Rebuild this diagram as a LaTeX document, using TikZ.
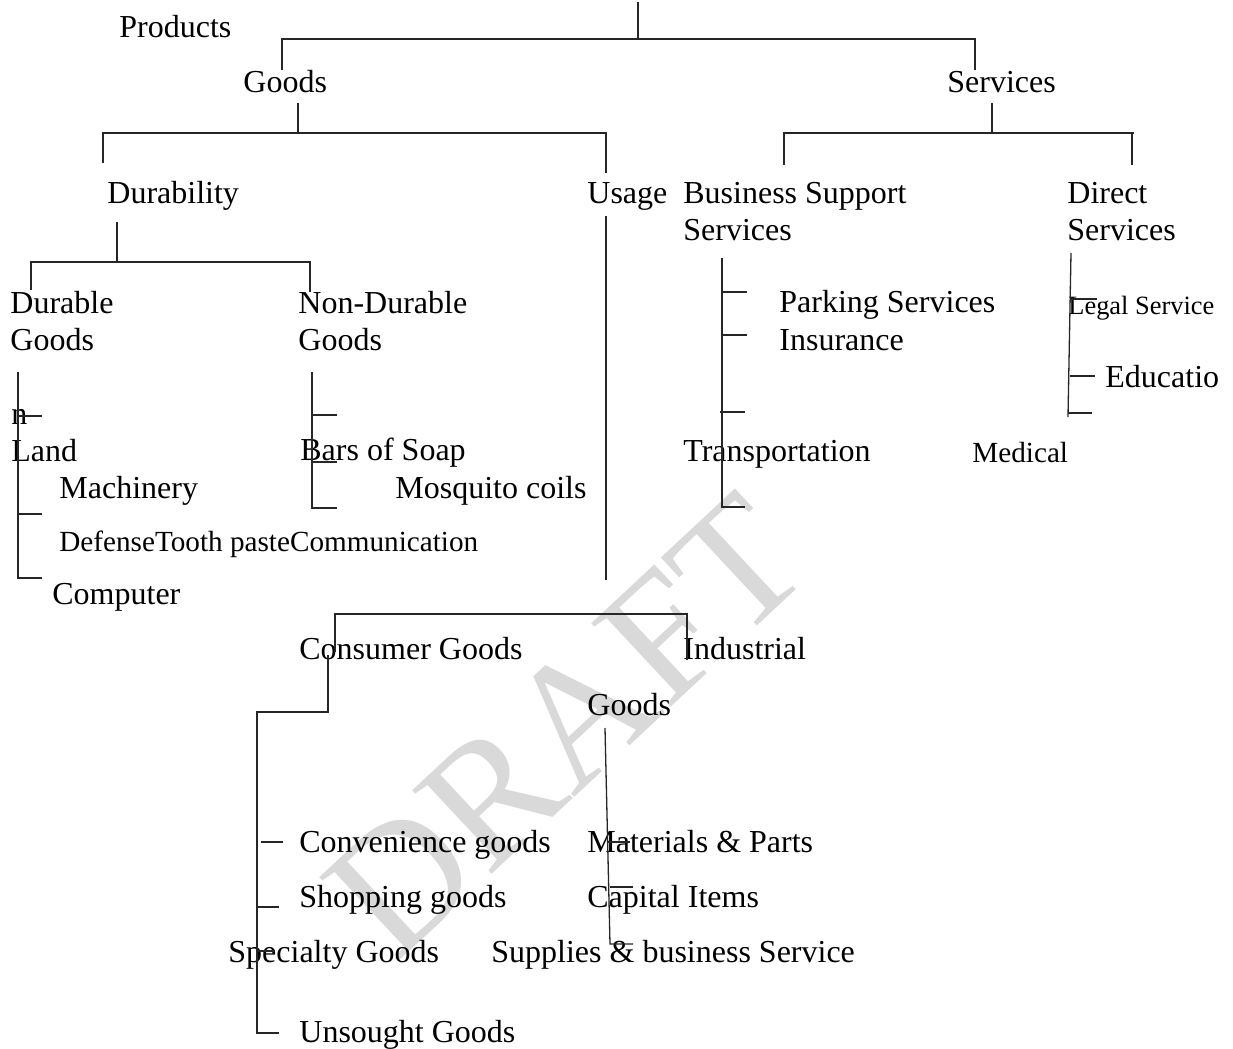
\documentclass[tikz,border=0pt]{standalone}
\usepackage{fontspec}
\setmainfont{Liberation Serif}
\begin{document}
\begin{tikzpicture}[x=0.5pt,y=-0.5pt,
  lbl/.style={anchor=base west,inner sep=0pt,font=\fontsize{16}{18.5}\selectfont,align=left},
  mid/.style={lbl,font=\fontsize{14.6}{17}\selectfont},
  sml/.style={lbl,font=\fontsize{13.2}{15}\selectfont},
  ln/.style={draw=black!85,line width=0.65pt}]
\useasboundingbox (0,0) rectangle (1233,1049);

% watermark behind everything
\node[inner sep=0pt,rotate=43,text=black!15,font=\fontsize{88}{88}\selectfont] (wm) at (566,726) {DRAFT};

% ---- labels (base anchor = baseline of the last line) ----
\node[lbl] (products) at (119,38) {Products};
\node[lbl] (goods) at (243,92) {Goods};
\node[lbl] (services) at (947,92) {Services};
\node[lbl] (durability) at (107,203) {Durability};
\node[lbl] (usage) at (587,203) {Usage};
\node[lbl] (bss) at (683,240) {Business Support\\Services};
\node[lbl] (direct) at (1067,240) {Direct\\Services};
\node[lbl] (durable) at (10,350) {Durable\\Goods};
\node[lbl] (nondurable) at (298,350) {Non-Durable\\Goods};
\node[lbl] (parking) at (779,312) {Parking Services};
\node[lbl] (insurance) at (779,350) {Insurance};
\node[sml] (legal) at (1068,314) {Legal Service};
\node[lbl] (educ) at (1105,387) {Educatio};
\node[lbl] (nfrag) at (11,424) {n};
\node[lbl] (land) at (11,461) {Land};
\node[lbl] (machinery) at (59,498) {Machinery};
\node[mid] (defense) at (59,551) {DefenseTooth pasteCommunication};
\node[lbl] (computer) at (52,604) {Computer};
\node[lbl] (soap) at (300,460) {Bars of Soap};
\node[lbl] (mosquito) at (395,498) {Mosquito coils};
\node[lbl] (transport) at (683,461) {Transportation};
\node[mid] (medical) at (972,462) {Medical};
\node[lbl] (consumer) at (299,659) {Consumer Goods};
\node[lbl] (industrial) at (683,659) {Industrial};
\node[lbl] (igoods) at (587,715) {Goods};
\node[lbl] (conv) at (299,852) {Convenience goods};
\node[lbl] (shop) at (299,907) {Shopping goods};
\node[lbl] (spec) at (228,962) {Specialty Goods};
\node[lbl] (unsought) at (299,1042) {Unsought Goods};
\node[lbl] (materials) at (587,852) {Materials \& Parts};
\node[lbl] (capital) at (587,907) {Capital Items};
\node[lbl] (supplies) at (491,962) {Supplies \& business Service};

% ---- connector lines ----
% Products
\draw[ln] (638,2) -- (638,39);
\draw[ln] (282,70) -- (282,39) -- (975,39) -- (975,70);
% Goods
\draw[ln] (298,103) -- (298,133);
\draw[ln] (103,163) -- (103,133) -- (606,133) -- (606,173);
% Services
\draw[ln] (992,103) -- (992,133);
\draw[ln] (784,165) -- (784,133) -- (1134,133);
\draw[ln] (1132,133) -- (1132,165);
% Durability
\draw[ln] (117,222) -- (117,262);
\draw[ln] (31,290) -- (31,262) -- (311,262);
\draw[ln] (310,262) -- (310,292);
% Durable goods
\draw[ln] (18,372) -- (18,578) -- (42,578);
\draw[ln] (18,416) -- (42,416);
\draw[ln] (18,514) -- (42,514);
% Non-durable goods
\draw[ln] (312,372) -- (312,508) -- (337,508);
\draw[ln] (312,415) -- (337,415);
\draw[ln] (312,462) -- (337,462);
% Business support services
\draw[ln] (722,258) -- (722,507) -- (745,507);
\draw[ln] (722,292) -- (747,292);
\draw[ln] (722,335) -- (747,335);
\draw[ln] (720,412) -- (745,412);
% Direct services
\draw[ln] (1071,253) -- (1068,417);
\draw[ln] (1071,299) -- (1097,299);
\draw[ln] (1070,376) -- (1095,376);
\draw[ln] (1068,413) -- (1092,413);
% Usage
\draw[ln] (606,216) -- (606,580);
% Consumer / Industrial
\draw[ln] (335,652) -- (335,614) -- (687,614) -- (687,660);
\draw[ln] (328,655) -- (328,712) -- (257,712) -- (257,1033) -- (279,1033);
\draw[ln] (261,842) -- (283,842);
\draw[ln] (256,907) -- (279,907);
\draw[ln] (256,951) -- (275,951);
% Industrial goods
\draw[ln] (605,728) -- (610,944) -- (633,944);
\draw[ln] (607,842) -- (630,842);
\draw[ln] (610,887) -- (633,887);
\end{tikzpicture}
\end{document}
